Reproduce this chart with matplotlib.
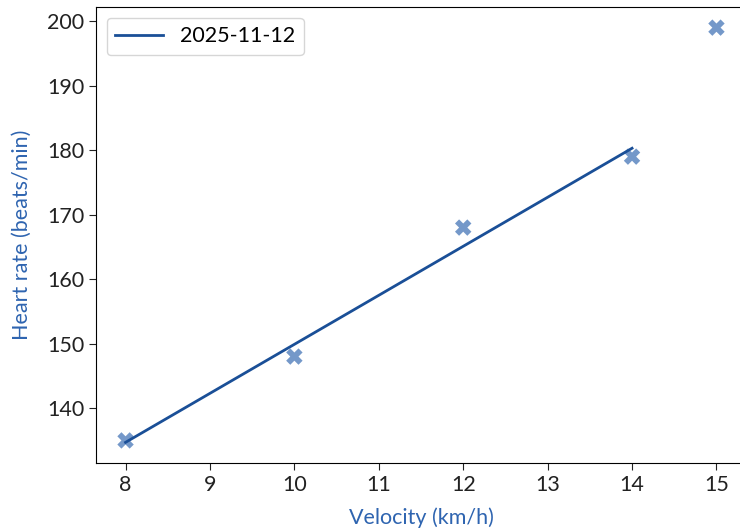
import numpy as np
import matplotlib.pyplot as plt

plt.rcParams['font.family'] = ['Lato', 'DejaVu Sans']

# measured points
velocity = [8, 10, 12, 14, 15]
heart_rate = [135, 148, 168, 179, 199]

# fitted line
fit_x = [8, 14]
fit_y = [134.7, 180.3]
label = "2025-11-12"

fig = plt.figure(figsize=(7.4, 5.32), dpi=100)
ax = fig.add_axes([96/740, 69/532, 650/740, 456/532])

ax.plot(fit_x, fit_y, color="#1a4f97", lw=2, label=label)
ax.scatter(velocity, heart_rate, marker="X", s=140, color="#4576b8", alpha=0.75, edgecolors="none")

ax.set_xlim(7.65, 15.35)
ax.set_ylim(131.5, 202.2)
ax.set_xticks(np.arange(8, 16))
ax.set_yticks([140, 150, 160, 170, 180, 190, 200])
ax.spines['right'].set_visible(False)
ax.tick_params(labelsize=15.5, colors="#222222", length=5)
ax.set_xlabel("Velocity (km/h)", color="#2e64b0", fontsize=15.5, labelpad=9)
ax.set_ylabel("Heart rate (beats/min)", color="#2e64b0", fontsize=15.5, labelpad=11)
ax.legend(loc="upper left", fontsize=15.5, handlelength=2.2)

fig.savefig("out.png", dpi=100)
